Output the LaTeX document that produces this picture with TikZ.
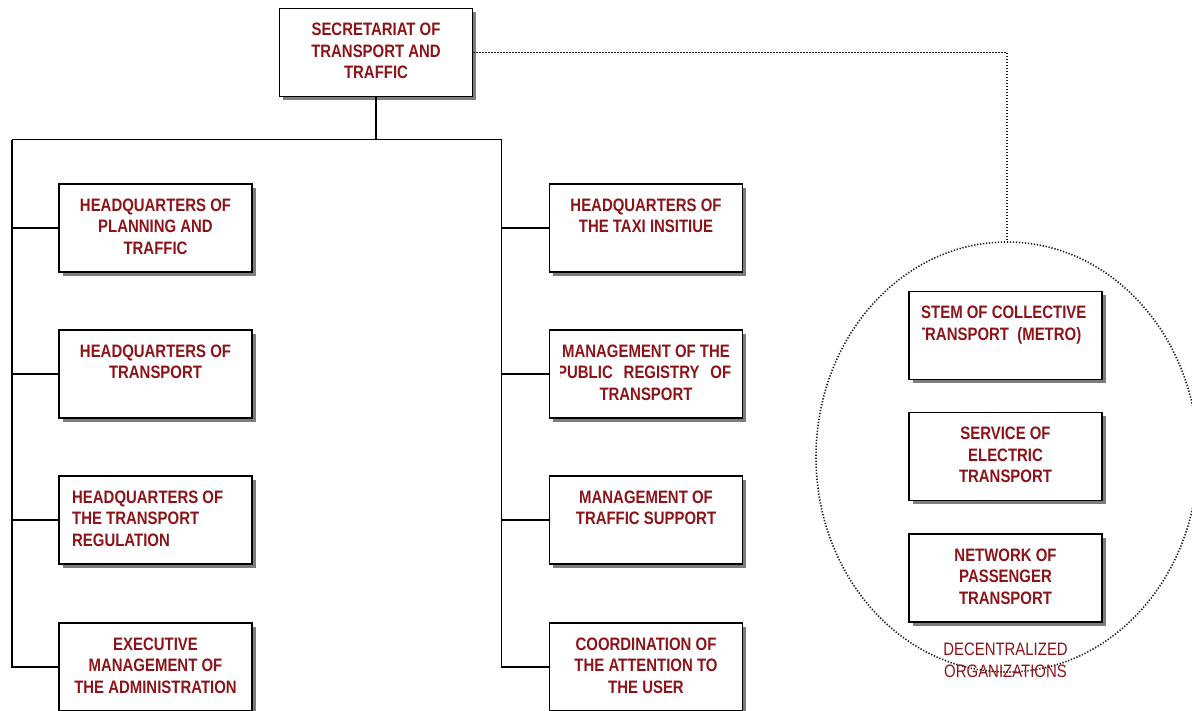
\documentclass[tikz,border=0pt]{standalone}
\usepackage{fontspec}
\setmainfont{Liberation Sans}[FakeStretch=0.83]
\usetikzlibrary{shapes.geometric,shadows,calc}
\definecolor{tred}{RGB}{140,20,25}
\definecolor{shd}{RGB}{125,125,125}
\definecolor{dotc}{RGB}{30,30,30}
\tikzset{
  orgbox/.style={draw=black, line width=1.9pt, fill=white, minimum width=193pt,
    minimum height=88pt, inner sep=0pt,
    drop shadow={shadow xshift=3.5pt, shadow yshift=-3.5pt, fill=shd, opacity=1}},
  lbl/.style={font=\fontsize{18}{21.5}\selectfont\bfseries, text=tred, inner sep=0pt, anchor=base},
  lblw/.style={lbl, anchor=base west},
  deco/.style={font=\fontsize{18}{21.5}\selectfont, text=tred, inner sep=0pt, anchor=base},
  wire/.style={line width=1.7pt, black},
  dotline/.style={line width=1.6pt, dotc, dash pattern=on 1.3pt off 1.7pt},
}
\begin{document}
\begin{tikzpicture}[x=1pt, y=-1pt]
\useasboundingbox (0,0) rectangle (1192,710);
\clip (0,0) rectangle (1192,710);
\fill[white] (0,0) rectangle (1192,710);

% ellipse of decentralized organizations
\node[ellipse, draw, dotline, minimum width=382pt, minimum height=430pt, inner sep=0pt] (ell) at (1007,457) {};

% boxes
\node[orgbox] (top) at (376,52.5) {};
\node[orgbox] (b1) at (155.5,228) {};
\node[orgbox] (b2) at (155.5,374) {};
\node[orgbox] (b3) at (155.5,520) {};
\node[orgbox] (b4) at (155.5,667) {};
\node[orgbox] (b5) at (646,228) {};
\node[orgbox] (b6) at (646,374) {};
\node[orgbox] (b7) at (646,520) {};
\node[orgbox] (b8) at (646,667) {};
\node[orgbox] (b9) at (1005.5,335.5) {};
\node[orgbox] (b10) at (1005.5,456.5) {};
\node[orgbox] (b11) at (1005.5,578) {};

% connectors
\coordinate (busL) at (12,139.5);
\coordinate (busR) at (501.5,139.5);
\draw[wire] (top.south) -- (top.south |- busL);
\draw[wire] (busL) -- (busR);
\draw[wire] (busL) |- (b4.west);
\draw[wire] (busL |- b1.west) -- (b1.west);
\draw[wire] (busL |- b2.west) -- (b2.west);
\draw[wire] (busL |- b3.west) -- (b3.west);
\draw[wire] (busR) |- (b8.west);
\draw[wire] (busR |- b5.west) -- (b5.west);
\draw[wire] (busR |- b6.west) -- (b6.west);
\draw[wire] (busR |- b7.west) -- (b7.west);
\draw[dotline] (top.east) -| (ell.north);

% labels
\node[lbl] (t1) at ($(top.north)+(0,28)$) {SECRETARIAT OF};
\node[lbl] (t2) at ($(top.north)+(0,49.5)$) {TRANSPORT AND};
\node[lbl] (t3) at ($(top.north)+(0,71)$) {TRAFFIC};

\node[lbl] (b1a) at ($(b1.north)+(0,28)$) {HEADQUARTERS OF};
\node[lbl] (b1b) at ($(b1.north)+(0,49.5)$) {PLANNING AND};
\node[lbl] (b1c) at ($(b1.north)+(0,71)$) {TRAFFIC};

\node[lbl] (b2a) at ($(b2.north)+(0,28)$) {HEADQUARTERS OF};
\node[lbl] (b2b) at ($(b2.north)+(0,49.5)$) {TRANSPORT};

\node[lblw] (b3a) at ($(b3.north)+(-83.5,28)$) {HEADQUARTERS OF};
\node[lblw] (b3b) at ($(b3.north)+(-83.5,49.5)$) {THE TRANSPORT};
\node[lblw] (b3c) at ($(b3.north)+(-83.5,71)$) {REGULATION};

\node[lbl] (b4a) at ($(b4.north)+(0,28)$) {EXECUTIVE};
\node[lbl] (b4b) at ($(b4.north)+(0,49.5)$) {MANAGEMENT OF};
\node[lbl] (b4c) at ($(b4.north)+(0,71)$) {THE ADMINISTRATION};

\node[lbl] (b5a) at ($(b5.north)+(0,28)$) {HEADQUARTERS OF};
\node[lbl] (b5b) at ($(b5.north)+(0,49.5)$) {THE TAXI INSITIUE};

\begin{scope}
\clip (560.5,330) rectangle (741,418);
\node[lbl] (b6a) at ($(b6.north)+(0,28)$) {MANAGEMENT OF THE};
\node[lblw] (b6b) at ($(b6.north)+(-89,49.5)$) {\makebox[174pt][s]{PUBLIC REGISTRY OF}};
\node[lbl] (b6c) at ($(b6.north)+(0,71)$) {TRANSPORT};
\end{scope}

\node[lbl] (b7a) at ($(b7.north)+(0,28)$) {MANAGEMENT OF};
\node[lbl] (b7b) at ($(b7.north)+(0,49.5)$) {TRAFFIC SUPPORT};

\node[lbl] (b8a) at ($(b8.north)+(0,28)$) {COORDINATION OF};
\node[lbl] (b8b) at ($(b8.north)+(0,49.5)$) {THE ATTENTION TO};
\node[lbl] (b8c) at ($(b8.north)+(0,71)$) {THE USER};

\begin{scope}
\clip (920.5,293) rectangle (1100,323);
\node[lblw] (b9a) at ($(b9.north)+(-84.5,28)$) {\llap{SY}STEM OF COLLECTIVE};
\end{scope}
\begin{scope}
\clip (922.5,323) rectangle (1100,378);
\node[lblw] (b9b) at ($(b9.north)+(-80.5,49.5)$) {\llap{T}RANSPORT\ \ (METRO)};
\end{scope}

\node[lbl] (b10a) at ($(b10.north)+(0,28)$) {SERVICE OF};
\node[lbl] (b10b) at ($(b10.north)+(0,49.5)$) {ELECTRIC};
\node[lbl] (b10c) at ($(b10.north)+(0,71)$) {TRANSPORT};

\node[lbl] (b11a) at ($(b11.north)+(0,28)$) {NETWORK OF};
\node[lbl] (b11b) at ($(b11.north)+(0,49.5)$) {PASSENGER};
\node[lbl] (b11c) at ($(b11.north)+(0,71)$) {TRANSPORT};

\node[deco] (dec1) at (1005.5,655) {DECENTRALIZED};
\node[deco] (dec2) at (1005.5,677) {ORGANIZATIONS};
\end{tikzpicture}
\end{document}
